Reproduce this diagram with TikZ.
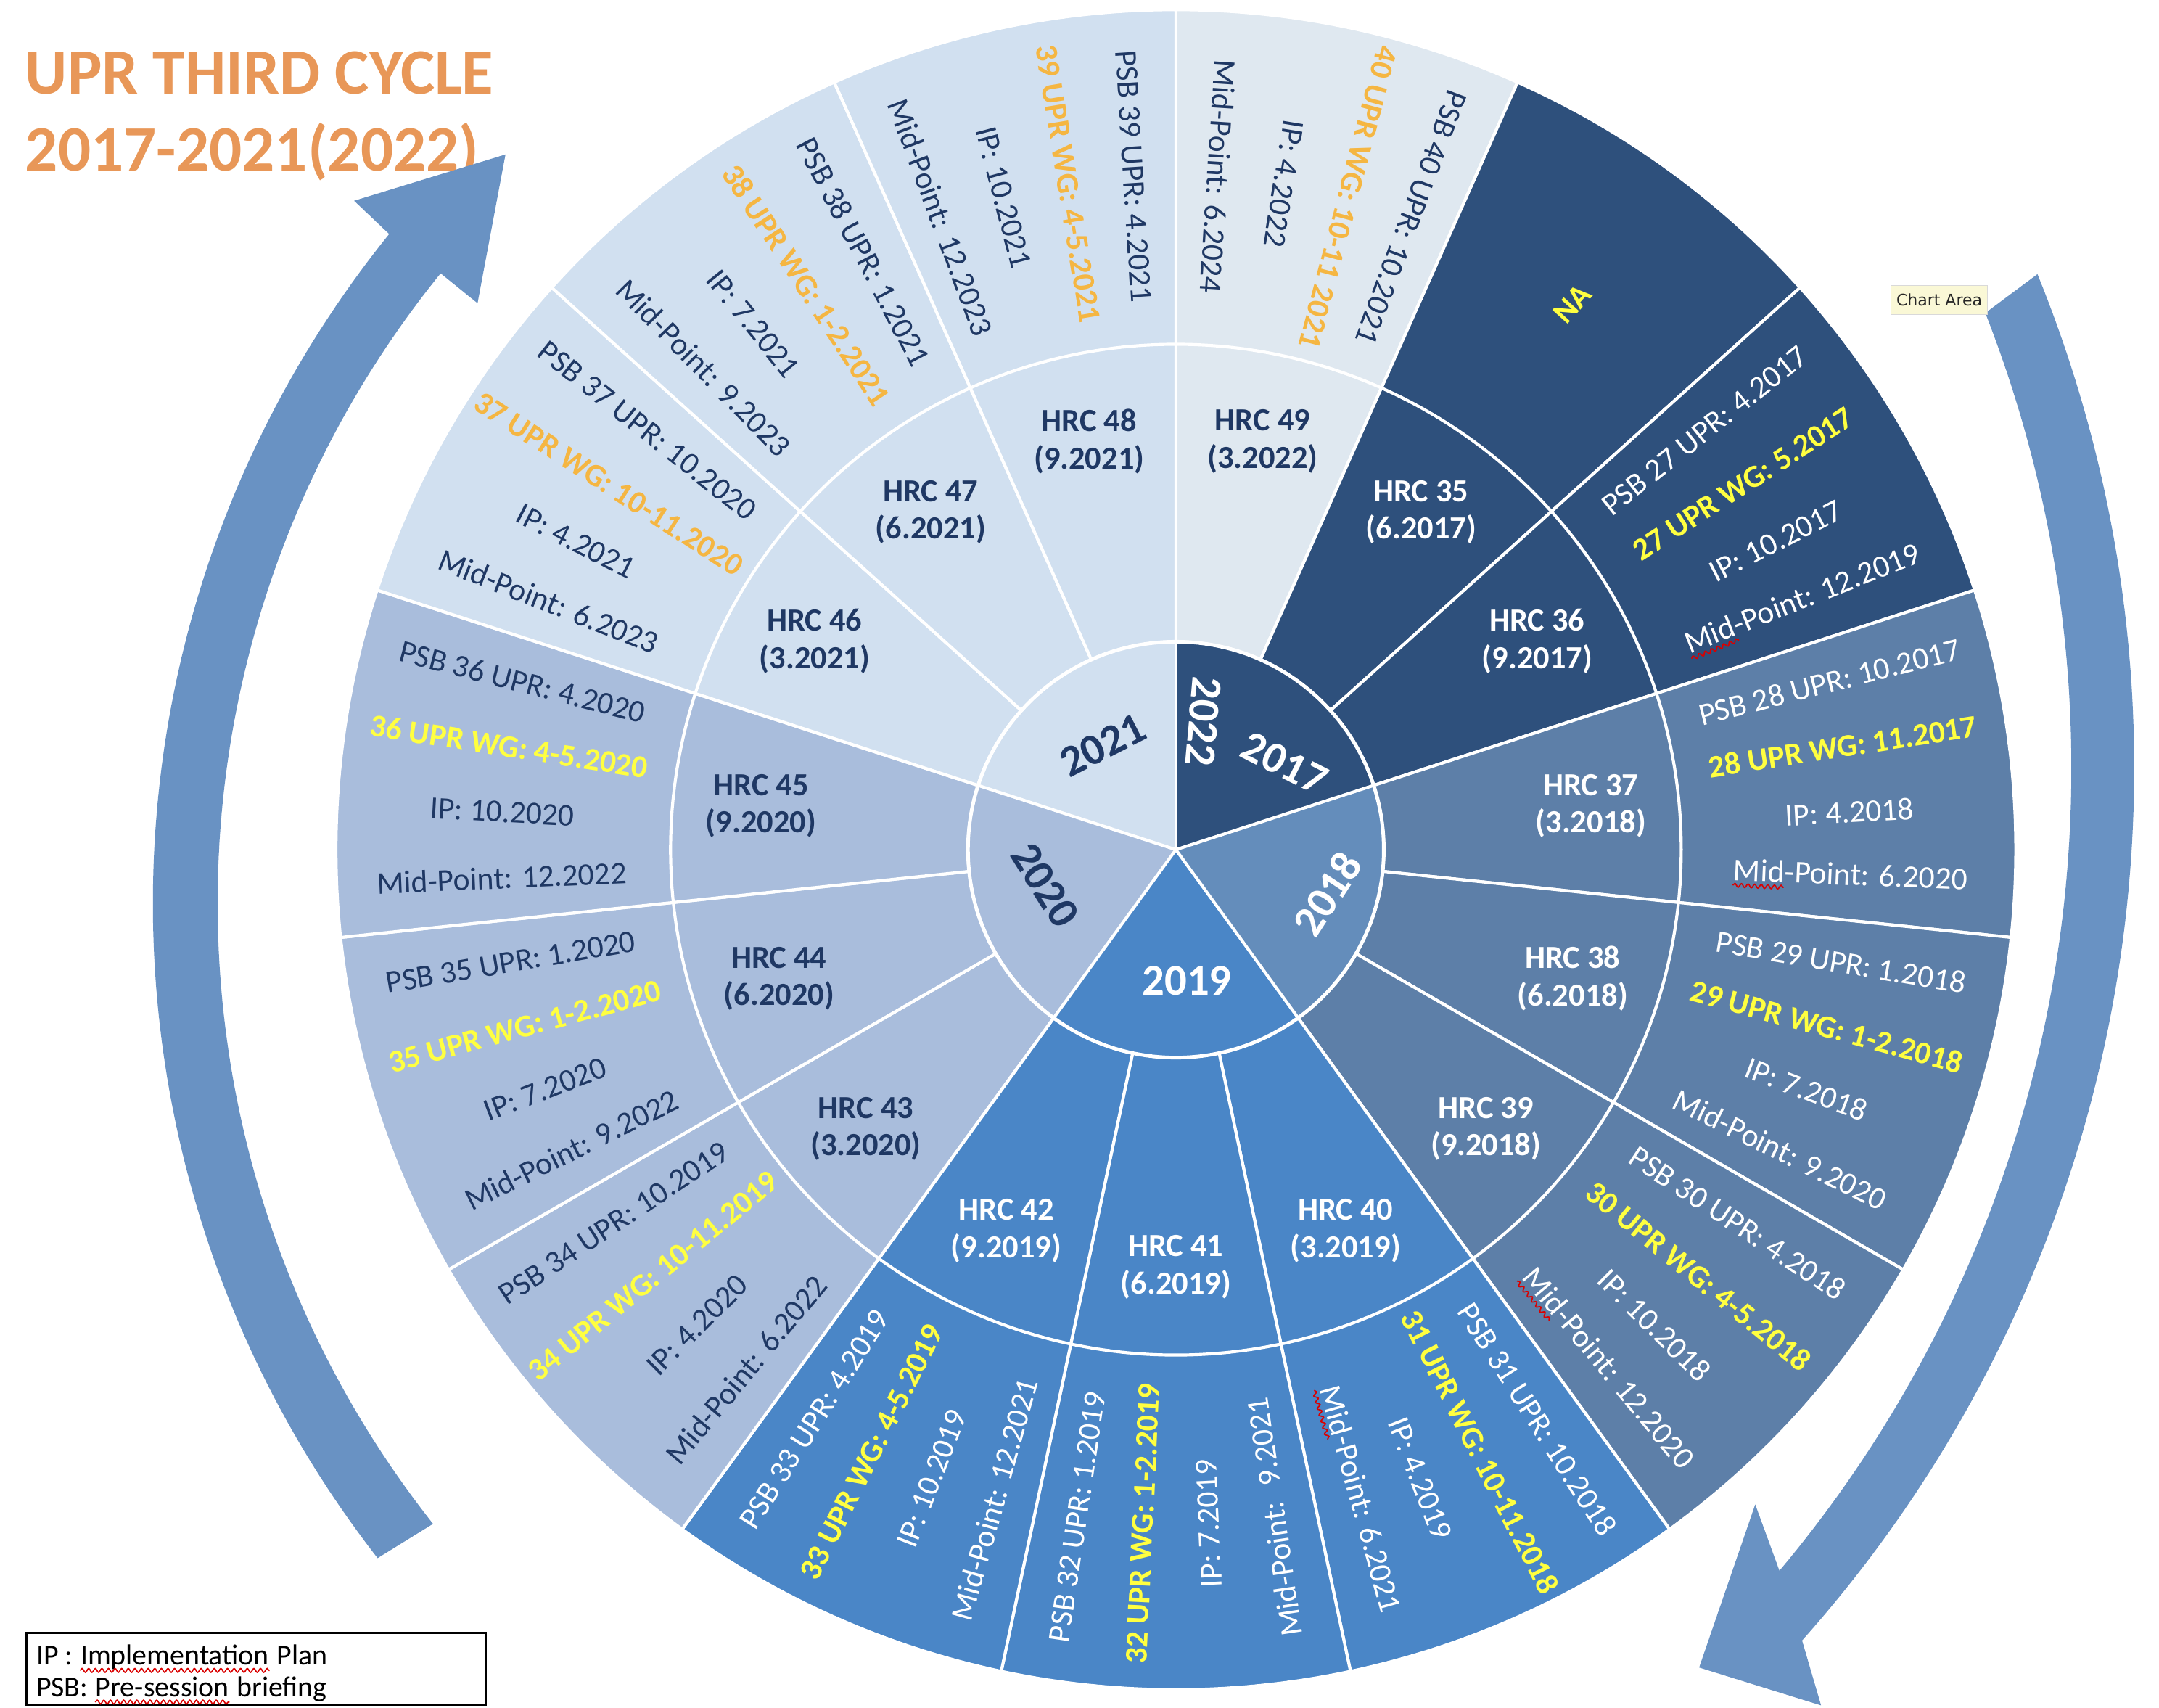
\documentclass[tikz,border=0pt]{standalone}
\usepackage{fontspec}
\setmainfont{Carlito}
\newfontfamily\tipfont{DejaVu Sans}
\usepackage{tikz}
\usetikzlibrary{decorations.pathmorphing}
\definecolor{navy}{RGB}{46,80,124}
\definecolor{steel}{RGB}{93,127,168}
\definecolor{steelc}{RGB}{100,141,187}
\definecolor{azure}{RGB}{74,134,199}
\definecolor{lilac}{RGB}{169,189,220}
\definecolor{pale}{RGB}{209,224,240}
\definecolor{mist}{RGB}{223,232,240}
\definecolor{ink}{RGB}{31,56,100}
\definecolor{amber}{RGB}{245,182,66}
\definecolor{lemon}{RGB}{255,255,64}
\definecolor{arrowblue}{RGB}{105,146,195}
\definecolor{titleorange}{RGB}{232,151,88}
\definecolor{tipyellow}{RGB}{250,248,214}
\tikzset{squig/.style={draw=red!85!black, line width=0.45pt, decorate,
    decoration={snake, amplitude=0.7pt, segment length=2.4pt}}}
\newcommand{\sq}[1]{\tikz[baseline=(w.base)]{\node[inner sep=0pt, outer sep=0pt] (w) {#1};%
    \draw[squig] ([yshift=-1.8pt]w.base west) -- ([yshift=-1.8pt]w.base east);}}

\begin{document}
\begin{tikzpicture}[x=0.5pt, y=0.5pt,
    seg/.style={draw=white, line width=1.1pt},
    hrc/.style={font=\fontsize{11.7}{13.6}\selectfont\bfseries, align=center, inner sep=0pt},
    lab/.style={font=\fontsize{11.5}{13}\selectfont, inner sep=0pt},
    wglab/.style={font=\fontsize{11.5}{13}\selectfont\bfseries, inner sep=0pt},
    yr/.style={font=\fontsize{16}{18}\selectfont\bfseries, inner sep=0pt},
    cycletitle/.style={font=\fontsize{23.5}{28}\selectfont\bfseries, text=titleorange, inner sep=0pt, anchor=base west},
    legtext/.style={font=\fontsize{10.5}{12}\selectfont, inner sep=0pt, anchor=base west},
    tipbox/.style={fill=tipyellow, draw=black!15, line width=0.4pt, font=\tipfont\fontsize{5.8}{7}\selectfont,
        text=black!85, minimum width=35pt, minimum height=10.5pt, inner sep=1pt, anchor=north west}]
    \useasboundingbox (-854,-623) rectangle (714,617);
    % Parametri
    \pgfmathsetmacro{\rc}{151}
    \pgfmathsetmacro{\rmid}{367}
    \pgfmathsetmacro{\rout}{610}
    \pgfmathsetmacro{\rh}{303}
    \pgfmathsetmacro{\rtxt}{490}
    % Titolo
    \node[cycletitle] (t1) at (-836,549) {UPR THIRD CYCLE};
    \node[cycletitle] (t2) at (-836,493) {2017-2021(2022)};
    % Settori HRC e UPR
    \foreach \i/\col in {0/mist,1/navy,2/navy,3/steel,4/steel,5/steel,6/azure,7/azure,8/azure,
        9/lilac,10/lilac,11/lilac,12/pale,13/pale,14/pale}{
        \pgfmathsetmacro{\angs}{90-24*\i}
        \pgfmathsetmacro{\ange}{66-24*\i}
        \filldraw[seg, fill=\col] (\angs:\rc) -- (\angs:\rout) arc[start angle=\angs, end angle=\ange, radius=\rout]
            -- (\ange:\rc) arc[start angle=\ange, end angle=\angs, radius=\rc] -- cycle;
        \draw[seg] (\angs:\rmid) arc[start angle=\angs, end angle=\ange, radius=\rmid];
    }
    % Anni al centro
    \foreach \angs/\ange/\col in {90/18/navy, 18/-54/steelc, -54/-126/azure, -126/-198/lilac, 162/90/pale}
        \fill[\col] (0,0) -- (\angs:\rc) arc[start angle=\angs, end angle=\ange, radius=\rc] -- cycle;
    \foreach \t in {90,18,-54,-126,162}
        \draw[seg] (0,0) -- (\t:\rc);
    \draw[white, line width=1.3pt] (0,0) circle[radius=\rc];
    \node[yr, text=white, rotate=-95] (y2022) at (20,93) {2022};
    \node[yr, text=white, rotate=-27] (y2017) at (79,63) {2017};
    \node[yr, text=white, rotate=57] (y2018) at (110,-32) {2018};
    \node[yr, text=white] (y2019) at (8,-95) {2019};
    \node[yr, text=ink, rotate=-58] (y2020) at (-95,-26) {2020};
    \node[yr, text=ink, rotate=27] (y2021) at (-53,76) {2021};
    % Sessioni HRC
    \foreach \i/\num/\dt/\tc in {0/49/3.2022/ink, 1/35/6.2017/white, 2/36/9.2017/white, 3/37/3.2018/white,
        4/38/6.2018/white, 5/39/9.2018/white, 6/40/3.2019/white, 7/41/6.2019/white, 8/42/9.2019/white,
        9/43/3.2020/ink, 10/44/6.2020/ink, 11/45/9.2020/ink, 12/46/3.2021/ink, 13/47/6.2021/ink, 14/48/9.2021/ink}
        \node[hrc, text=\tc] (hrc\num) at ({78-24*\i}:\rh) {HRC \num\\(\dt)};
    % Sessioni UPR
    \node[wglab, text=lemon, rotate=48] (na) at (54:\rtxt) {NA};
    \foreach \i/\tpsb/\twg/\tipl/\tmid/\tc/\wc/\s in {
        0/PSB 40 UPR: 10.2021/40 UPR WG: 10-11 2021/IP: 4.2022/Mid-Point: 6.2024/ink/amber/-1,
        2/PSB 27 UPR: 4.2017/27 UPR WG: 5.2017/IP: 10.2017/\sq{Mid}-Point: 12.2019/white/lemon/1,
        3/PSB 28 UPR: 10.2017/28 UPR WG: 11.2017/IP: 4.2018/\sq{Mid}-Point: 6.2020/white/lemon/1,
        4/PSB 29 UPR: 1.2018/29 UPR WG: 1-2.2018/IP: 7.2018/Mid-Point: 9.2020/white/lemon/1,
        5/PSB 30 UPR: 4.2018/30 UPR WG: 4-5.2018/IP: 10.2018/\sq{Mid}-Point: 12.2020/white/lemon/1,
        6/PSB 31 UPR: 10.2018/31 UPR WG: 10-11.2018/IP: 4.2019/\sq{Mid}-Point: 6.2021/white/lemon/1,
        7/PSB 32 UPR: 1.2019/32 UPR WG: 1-2.2019/IP: 7.2019/Mid-Point: \ 9.2021/white/lemon/-1,
        8/PSB 33 UPR: 4.2019/33 UPR WG: 4-5.2019/IP: 10.2019/Mid-Point: 12.2021/white/lemon/-1,
        9/PSB 34 UPR: 10.2019/34 UPR WG: 10-11.2019/IP: 4.2020/Mid-Point: 6.2022/ink/lemon/-1,
        10/PSB 35 UPR: 1.2020/35 UPR WG: 1-2.2020/IP: 7.2020/Mid-Point: 9.2022/ink/lemon/-1,
        11/PSB 36 UPR: 4.2020/36 UPR WG: 4-5.2020/IP: 10.2020/Mid-Point: 12.2022/ink/lemon/-1,
        12/PSB 37 UPR: 10.2020/37 UPR WG: 10-11.2020/IP: 4.2021/Mid-Point: 6.2023/ink/amber/-1,
        13/PSB 38 UPR: 1.2021/38 UPR WG: 1-2.2021/IP: 7.2021/Mid-Point: 9.2023/ink/amber/-1,
        14/PSB 39 UPR: 4.2021/39 UPR WG: 4-5.2021/IP: 10.2021/Mid-Point: 12.2023/ink/amber/-1}{
        \pgfmathsetmacro{\cen}{78-24*\i}
        \pgfmathsetmacro{\flip}{\s<0 ? 180 : 0}
        \node[lab, text=\tc, rotate={\cen+(\s)*8.4+\flip}] (psb\i) at ({\cen+(\s)*8.4}:\rtxt) {\tpsb};
        \node[wglab, text=\wc, rotate={\cen+(\s)*2.8+\flip}] (wg\i) at ({\cen+(\s)*2.8}:\rtxt) {\twg};
        \node[lab, text=\tc, rotate={\cen-(\s)*2.8+\flip}] (ip\i) at ({\cen-(\s)*2.8}:\rtxt) {\tipl};
        \node[lab, text=\tc, rotate={\cen-(\s)*8.4+\flip}] (mp\i) at ({\cen-(\s)*8.4}:\rtxt) {\tmid};
    }
    % Frecce
    \begin{scope}[shift={(31,-39)}]
        \fill[arrowblue] (217.9:774) arc[start angle=217.9, end angle=141.1, radius=774]
            -- (140.9:809) -- (133.6:751) -- (141:692.5) -- (141:727)
            arc[start angle=141, end angle=218.3, radius=727] -- cycle;
    \end{scope}
    \begin{scope}[shift={(-256,59)}]
        \fill[arrowblue] (22.15:952) arc[start angle=22.15, end angle=-41.7, radius=952]
            -- (-43.2:994) -- (-45.75:911.5) -- (-38.3:862.4) -- (-40:906.4)
            arc[start angle=-40, end angle=21.4, radius=906.4] -- cycle;
    \end{scope}
    % Legenda
    \node[draw=black, line width=0.9pt, minimum width=167pt, minimum height=26pt, inner sep=0pt,
        anchor=north west] (leg) at (-836,-568) {};
    \node[legtext] (ipa) at (-828,-592) {IP :};
    \node[legtext] (ipb) at ([xshift=2.4pt]ipa.base east) {Implementation};
    \node[legtext] (ipc) at ([xshift=2.4pt]ipb.base east) {Plan};
    \node[legtext] (psa) at (-828,-615) {PSB:};
    \node[legtext] (psb) at ([xshift=2.4pt]psa.base east) {Pre-session};
    \node[legtext] (psc) at ([xshift=2.4pt]psb.base east) {briefing};
    \draw[squig] ([yshift=-2pt]ipb.base west) -- ([yshift=-2pt]ipb.base east);
    \draw[squig] ([yshift=-2pt]psb.base west) -- ([yshift=-2pt]psb.base east);
    \node[tipbox] (ca) at (519,410) {Chart Area};
\end{tikzpicture}
\end{document}
